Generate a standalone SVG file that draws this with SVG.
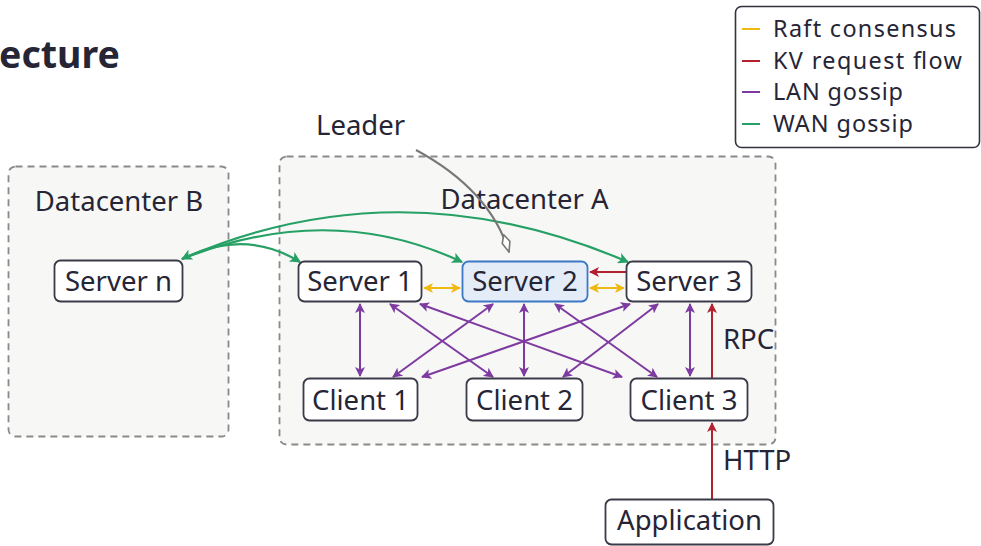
<svg xmlns="http://www.w3.org/2000/svg" width="981" height="546" viewBox="0 0 981 546">
  <defs>
    <style>
      text { font-family: "Noto Sans", "Open Sans", sans-serif; fill: #262536; }
      .lbl { font-size: 27.5px; }
      .node rect { fill: #ffffff; stroke: #3a3a48; stroke-width: 1.8; }
      .node.leader rect { fill: #e4ecf8; stroke: #3c78c6; }
      .dc { fill: #f7f7f5; stroke: #8a8a8a; stroke-width: 1.8; stroke-dasharray: 7 5; }
      .lan { stroke: #7d3aa0; stroke-width: 2; fill: none; marker-start: url(#ahP); marker-end: url(#ahP); }
      .wan { stroke: #26a065; stroke-width: 2.2; fill: none; }
      .raft { stroke: #f0b90f; stroke-width: 2; fill: none; marker-start: url(#ahY); marker-end: url(#ahY); }
      .kv { stroke: #b3202e; stroke-width: 2; fill: none; marker-end: url(#ahR); }
      .legend text { font-size: 23.4px; }
    </style>
    <marker id="ahP" viewBox="0 0 10 10" refX="9" refY="5" markerWidth="10" markerHeight="10" markerUnits="userSpaceOnUse" orient="auto-start-reverse">
      <path d="M0,0 L10,5 L0,10 L2.5,5 z" fill="#7d3aa0"/>
    </marker>
    <marker id="ahG" viewBox="0 0 10 10" refX="9" refY="5" markerWidth="11" markerHeight="11" markerUnits="userSpaceOnUse" orient="auto-start-reverse">
      <path d="M0,0 L10,5 L0,10 L2.5,5 z" fill="#26a065"/>
    </marker>
    <marker id="ahY" viewBox="0 0 10 10" refX="9" refY="5" markerWidth="10" markerHeight="10" markerUnits="userSpaceOnUse" orient="auto-start-reverse">
      <path d="M0,0 L10,5 L0,10 L2.5,5 z" fill="#f0b90f"/>
    </marker>
    <marker id="ahR" viewBox="0 0 10 10" refX="9" refY="5" markerWidth="10" markerHeight="10" markerUnits="userSpaceOnUse" orient="auto-start-reverse">
      <path d="M0,0 L10,5 L0,10 L2.5,5 z" fill="#b3202e"/>
    </marker>
    <marker id="ahKite" viewBox="0 0 20 10" refX="19" refY="5" markerWidth="20" markerHeight="10" markerUnits="userSpaceOnUse" orient="auto">
      <path d="M1,5 L9,1 L19,5 L9,9 z" fill="#ffffff" stroke="#777777" stroke-width="1.6"/>
    </marker>
  </defs>

  <rect width="981" height="546" fill="#ffffff"/>

  <!-- heading -->
  <text x="-1" y="68" font-size="37.5" font-weight="700" fill="#23222f">ecture</text>

  <!-- datacenter regions -->
  <g id="dc-b">
    <rect class="dc" x="8.5" y="166.5" width="220" height="270" rx="7"/>
    <text class="lbl" x="119" y="211" text-anchor="middle">Datacenter B</text>
  </g>
  <g id="dc-a">
    <rect class="dc" x="279.5" y="156.5" width="496" height="288" rx="7"/>
    <text class="lbl" x="524.5" y="209" text-anchor="middle">Datacenter A</text>
  </g>

  <!-- connectors -->
  <g id="connectors">
    <!-- WAN gossip -->
    <path class="wan" d="M182,259 Q245,228 300,262" marker-start="url(#ahG)" marker-end="url(#ahG)"/>
    <path class="wan" d="M182,259 Q330,200 462,262" marker-end="url(#ahG)"/>
    <path class="wan" d="M182,259 Q400,164 628,262" marker-end="url(#ahG)"/>

    <!-- LAN gossip -->
    <line class="lan" x1="360" y1="304" x2="360" y2="376"/>
    <line class="lan" x1="390" y1="304" x2="493" y2="377"/>
    <line class="lan" x1="420" y1="304" x2="622" y2="377"/>
    <line class="lan" x1="493" y1="304" x2="393" y2="377"/>
    <line class="lan" x1="524" y1="304" x2="524" y2="376"/>
    <line class="lan" x1="555" y1="304" x2="657" y2="377"/>
    <line class="lan" x1="630" y1="304" x2="422" y2="377"/>
    <line class="lan" x1="658" y1="304" x2="563" y2="377"/>
    <line class="lan" x1="690" y1="304" x2="690" y2="376"/>

    <!-- Raft consensus -->
    <line class="raft" x1="424" y1="288" x2="460" y2="288"/>
    <line class="raft" x1="590" y1="288" x2="624" y2="288"/>

    <!-- KV request flow -->
    <line class="kv" x1="626" y1="272" x2="590" y2="272"/>
    <line class="kv" x1="712" y1="378" x2="712" y2="304"/>
    <line class="kv" x1="712" y1="499" x2="712" y2="423"/>

    <!-- leader callout -->
    <path d="M416,150 Q490,190 509,252" fill="none" stroke="#777777" stroke-width="2" marker-end="url(#ahKite)"/>
  </g>

  <!-- nodes -->
  <g id="server-n" class="node">
    <rect x="54.5" y="260.5" width="128" height="41" rx="6"/>
    <text class="lbl" x="118.5" y="291" text-anchor="middle">Server n</text>
  </g>
  <g id="server-1" class="node">
    <rect x="298.5" y="261.5" width="123" height="40" rx="6"/>
    <text class="lbl" x="360" y="291" text-anchor="middle">Server 1</text>
  </g>
  <g id="server-2" class="node leader">
    <rect x="462.5" y="261.5" width="125" height="40" rx="6"/>
    <text class="lbl" x="525" y="291" text-anchor="middle">Server 2</text>
  </g>
  <g id="server-3" class="node">
    <rect x="626.5" y="261.5" width="125" height="40" rx="6"/>
    <text class="lbl" x="689" y="291" text-anchor="middle">Server 3</text>
  </g>
  <g id="client-1" class="node">
    <rect x="303.5" y="378.5" width="114" height="42" rx="6"/>
    <text class="lbl" x="360.5" y="410" text-anchor="middle">Client 1</text>
  </g>
  <g id="client-2" class="node">
    <rect x="466.5" y="378.5" width="116" height="42" rx="6"/>
    <text class="lbl" x="524.5" y="410" text-anchor="middle">Client 2</text>
  </g>
  <g id="client-3" class="node">
    <rect x="630.5" y="378.5" width="117" height="42" rx="6"/>
    <text class="lbl" x="689" y="410" text-anchor="middle">Client 3</text>
  </g>
  <g id="application" class="node">
    <rect x="605.5" y="499.5" width="168" height="45" rx="6"/>
    <text class="lbl" x="689.5" y="530" text-anchor="middle">Application</text>
  </g>

  <!-- annotations -->
  <text class="lbl" x="316" y="135">Leader</text>
  <text class="lbl" x="723" y="349">RPC</text>
  <text class="lbl" x="723" y="470">HTTP</text>

  <!-- legend -->
  <g id="legend" class="legend">
    <rect x="735.5" y="6.5" width="244" height="141" rx="6" fill="#ffffff" stroke="#333340" stroke-width="1.6"/>
    <line x1="742" y1="29" x2="760" y2="29" stroke="#f0b90f" stroke-width="2"/>
    <line x1="742" y1="61" x2="760" y2="61" stroke="#b3202e" stroke-width="2"/>
    <line x1="742" y1="92" x2="760" y2="92" stroke="#7d3aa0" stroke-width="2"/>
    <line x1="742" y1="124" x2="760" y2="124" stroke="#26a065" stroke-width="2"/>
    <text x="773" y="37" textLength="183">Raft consensus</text>
    <text x="773" y="69" textLength="189">KV request flow</text>
    <text x="773" y="100" textLength="130">LAN gossip</text>
    <text x="773" y="132" textLength="140">WAN gossip</text>
  </g>
</svg>
